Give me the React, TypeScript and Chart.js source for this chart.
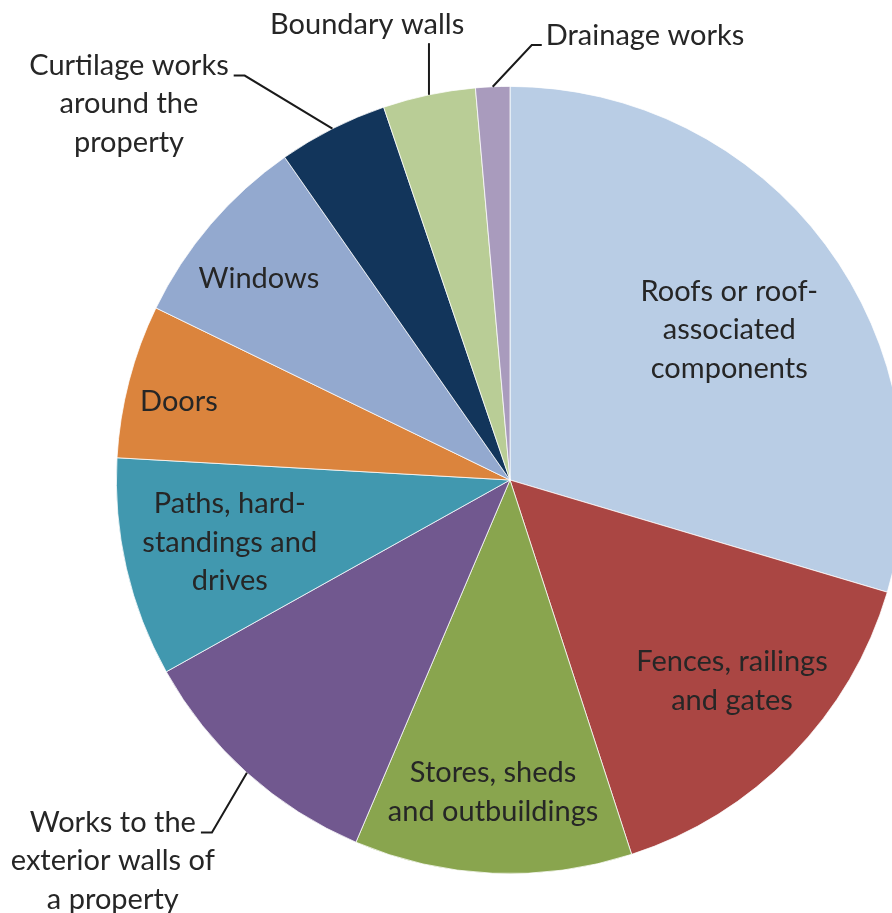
import React, { useEffect, useRef } from "react";
import { Chart, registerables } from "chart.js";

Chart.register(...registerables);

const categories: string[] = [
  "Roofs or roof-associated components",
  "Fences, railings and gates",
  "Stores, sheds and outbuildings",
  "Works to the exterior walls of a property",
  "Paths, hard-standings and drives",
  "Doors",
  "Windows",
  "Curtilage works around the property",
  "Boundary walls",
  "Drainage works",
];

const values: number[] = [29.6, 15.4, 11.4, 10.5, 9.0, 6.3, 8.1, 4.5, 3.8, 1.4];

const colors: string[] = [
  "#B9CDE5",
  "#AA4643",
  "#89A54E",
  "#71588F",
  "#4198AF",
  "#DB843D",
  "#93A9CF",
  "#12355B",
  "#B9CD96",
  "#A99BBD",
];

const labelLines: string[][] = [
  ["Roofs or roof-", "associated", "components"],
  ["Fences, railings", "and gates"],
  ["Stores, sheds", "and outbuildings"],
  ["Works to the", "exterior walls of", "a property"],
  ["Paths, hard-", "standings and", "drives"],
  ["Doors"],
  ["Windows"],
  ["Curtilage works", "around the", "property"],
  ["Boundary walls"],
  ["Drainage works"],
];

// label placement (style): block centre offset in units of radius, leader type
type Place = { dx: number; dy: number; leader: "none" | "right" | "left" | "bottom" };
const placements: Place[] = [
  { dx: 0.557, dy: -0.381, leader: "none" },
  { dx: 0.564, dy: 0.511, leader: "none" },
  { dx: -0.043, dy: 0.793, leader: "none" },
  { dx: -1.009, dy: 0.968, leader: "right" },
  { dx: -0.712, dy: 0.158, leader: "none" },
  { dx: -0.841, dy: -0.198, leader: "none" },
  { dx: -0.638, dy: -0.511, leader: "none" },
  { dx: -0.968, dy: -0.955, leader: "right" },
  { dx: -0.363, dy: -1.158, leader: "bottom" },
  { dx: 0.343, dy: -1.128, leader: "left" },
];

const FONT = "29px Lato, 'Open Sans', sans-serif";
const LINE_H = 38.5;
const TEXT_COLOR = "#262626";

const labelPlugin = {
  id: "pieLabels",
  afterDraw(chart: any) {
    const ctx = chart.ctx as CanvasRenderingContext2D;
    const meta = chart.getDatasetMeta(0);
    ctx.save();
    ctx.font = FONT;
    ctx.fillStyle = TEXT_COLOR;
    ctx.textAlign = "center";
    ctx.textBaseline = "middle";
    meta.data.forEach((arc: any, i: number) => {
      const { x, y, startAngle, endAngle, outerRadius } = arc.getProps(
        ["x", "y", "startAngle", "endAngle", "outerRadius"],
        true
      );
      const p = placements[i];
      const lines = labelLines[i];
      const cx = x + p.dx * outerRadius;
      const cy = y + p.dy * outerRadius;
      const top = cy - ((lines.length - 1) * LINE_H) / 2;
      lines.forEach((ln, k) => ctx.fillText(ln, cx, top + k * LINE_H));

      if (p.leader !== "none") {
        const mid = (startAngle + endAngle) / 2;
        const ex = x + Math.cos(mid) * outerRadius;
        const ey = y + Math.sin(mid) * outerRadius;
        const w0 = ctx.measureText(lines[0]).width;
        ctx.beginPath();
        ctx.strokeStyle = "#1a1a1a";
        ctx.lineWidth = 2;
        if (p.leader === "right") {
          const ax = cx + w0 / 2 + 5;
          const ay = top + 10;
          ctx.moveTo(ax, ay);
          ctx.lineTo(ax + 11, ay);
          ctx.lineTo(ex, ey);
        } else if (p.leader === "left") {
          const ax = cx - w0 / 2 - 4;
          const ay = top + 9;
          ctx.moveTo(ax, ay);
          ctx.lineTo(ax - 10, ay);
          ctx.lineTo(ex, ey);
        } else {
          const ay = top + 19;
          ctx.moveTo(ex, ay);
          ctx.lineTo(ex, ey);
        }
        ctx.stroke();
      }
    });
    ctx.restore();
  },
};

export default function App() {
  const ref = useRef<HTMLCanvasElement | null>(null);
  useEffect(() => {
    document.body.style.margin = "0";
    if (!ref.current) return;
    const chart = new Chart(ref.current, {
      type: "pie",
      data: {
        labels: categories,
        datasets: [
          {
            data: values,
            backgroundColor: colors,
            borderColor: "#ffffff",
            borderWidth: 0.75,
          },
        ],
      },
      options: {
        responsive: false,
        animation: false,
        layout: { padding: { left: 116, top: 86, right: 116, bottom: 39 } },
        plugins: {
          legend: { display: false },
          tooltip: { enabled: false },
        },
      },
      plugins: [labelPlugin],
    });
    return () => chart.destroy();
  }, []);
  return (
    <div style={{ position: "fixed", left: 0, top: 0, width: 892, height: 913, overflow: "hidden", background: "#fff" }}>
      <canvas ref={ref} width={1020} height={913} style={{ display: "block", width: 1020, height: 913 }} />
    </div>
  );
}
